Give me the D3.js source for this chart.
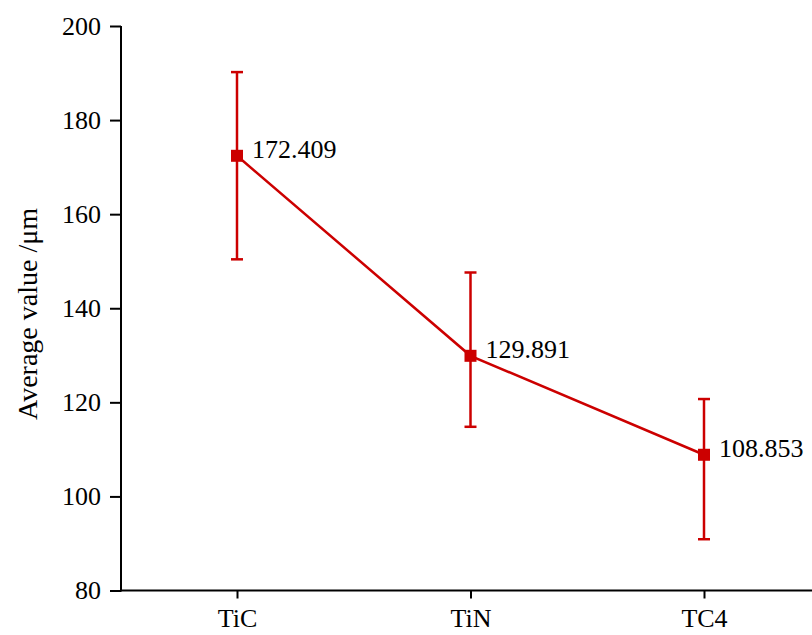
<!DOCTYPE html>
<html><head><meta charset="utf-8">
<script src="https://cdn.jsdelivr.net/npm/d3@7"></script>
<style>body{margin:0;background:#fff}svg{display:block}</style>
</head><body>
<svg id="c" width="812" height="635"></svg>
<script>
const categories = ["TiC", "TiN", "TC4"];
const means = [172.409, 129.891, 108.853];
const errLow = [150.4, 114.8, 90.9];
const errHigh = [190.2, 147.6, 120.7];
const yTicks = [80, 100, 120, 140, 160, 180, 200];
const yLabel = "Average value /μm";

(function () {
const svg = d3.select("#c");
const font = "'Liberation Serif', 'DejaVu Serif', serif";
const red = "#cc0000";
const mL = 121, mR = 812, mT = 26, mB = 590.5;

const x = d3.scalePoint().domain(categories).range([237, 704]);
const y = d3.scaleLinear().domain([80, 200]).range([mB, mT]);

const yAxis = svg.append("g").attr("transform", `translate(${mL},0)`)
  .call(d3.axisLeft(y).tickValues(yTicks).tickSize(11).tickPadding(9).tickSizeOuter(0));
const xAxis = svg.append("g").attr("transform", `translate(0,${mB})`)
  .call(d3.axisBottom(x).tickSize(8).tickPadding(10).tickSizeOuter(0));
xAxis.select(".domain").attr("d", `M${mL},0H${mR}`);
[yAxis, xAxis].forEach(g => {
  g.selectAll("path,line").attr("stroke", "#000").attr("stroke-width", 2);
  g.selectAll("text").attr("font-family", font).attr("font-size", 26).attr("fill", "#000");
});
yAxis.select(".domain").attr("d", `M0,${mB+1}V${mT}`);

svg.append("text").attr("transform", `translate(37,314) rotate(-90)`)
  .attr("text-anchor", "middle").attr("font-family", font).attr("font-size", 28)
  .text(yLabel);

const data = categories.map((c, i) => ({c, m: means[i], lo: errLow[i], hi: errHigh[i]}));

svg.append("path").datum(data)
  .attr("d", d3.line().x(d => x(d.c)).y(d => y(d.m)))
  .attr("fill", "none").attr("stroke", red).attr("stroke-width", 2.5);

const eb = svg.append("g").attr("stroke", red).attr("stroke-width", 2.5);
data.forEach(d => {
  eb.append("line").attr("x1", x(d.c)).attr("x2", x(d.c)).attr("y1", y(d.lo)).attr("y2", y(d.hi));
  [d.lo, d.hi].forEach(v => eb.append("line").attr("x1", x(d.c) - 6).attr("x2", x(d.c) + 6)
    .attr("y1", y(v)).attr("y2", y(v)));
});

svg.selectAll("rect.pt").data(data).join("rect").attr("class", "pt")
  .attr("x", d => x(d.c) - 6).attr("y", d => y(d.m) - 6).attr("width", 12).attr("height", 12)
  .attr("fill", red);

svg.selectAll("text.lbl").data(data).join("text").attr("class", "lbl")
  .attr("x", d => x(d.c) + 15).attr("y", d => y(d.m)).attr("dy", "0.1em")
  .attr("font-family", font).attr("font-size", 26).attr("fill", "#000")
  .text(d => d.m.toFixed(3));
})();
</script>
</body></html>
